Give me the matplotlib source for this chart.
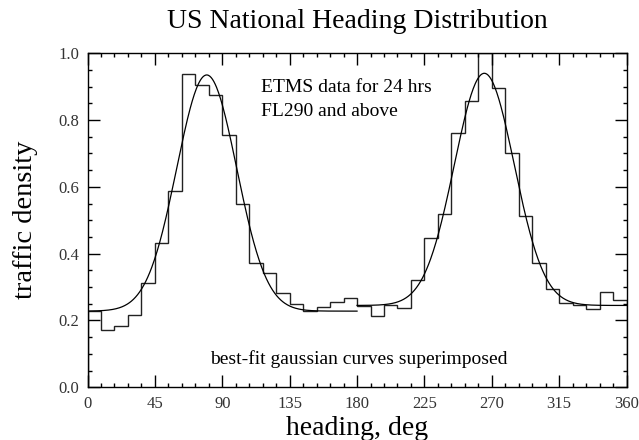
import numpy as np
import matplotlib
matplotlib.use("Agg")
import matplotlib.pyplot as plt

# histogram of headings, 9 deg bins
bin_edges = np.arange(0, 361, 9)
density = [0.228, 0.172, 0.184, 0.216, 0.313, 0.433, 0.589, 0.937, 0.905, 0.875,
           0.756, 0.548, 0.373, 0.341, 0.281, 0.249, 0.229, 0.240, 0.256, 0.266,
           0.243, 0.212, 0.247, 0.237, 0.321, 0.448, 0.519, 0.762, 0.858, 1.000,
           0.897, 0.700, 0.514, 0.371, 0.293, 0.253, 0.247, 0.234, 0.284, 0.261]

# best-fit gaussian parameters, one per half of the compass
fit_range = [(0, 180), (180, 360)]
fit_center = [79.6, 265.0]
fit_sigma = [20.0, 20.0]
fit_peak = [0.707, 0.695]
fit_base = [0.228, 0.245]

x_ticks = [0, 45, 90, 135, 180, 225, 270, 315, 360]
y_ticks = [0.0, 0.2, 0.4, 0.6, 0.8, 1.0]

plt.rcParams['font.family'] = ['Liberation Serif', 'DejaVu Serif']

fig = plt.figure(figsize=(6.39, 4.40), dpi=100)
ax = fig.add_axes([0.137, 0.1198, 0.8435, 0.7592])

ax.stairs(density, bin_edges, color='#222222', lw=1.0, clip_on=True)

for (lo, hi), c, s, a, b in zip(fit_range, fit_center, fit_sigma, fit_peak, fit_base):
    xs = np.linspace(lo, hi, 400)
    ax.plot(xs, b + a * np.exp(-(xs - c) ** 2 / (2 * s ** 2)), color='black', lw=0.9)

ax.set_xlim(0, 360)
ax.set_ylim(0, 1.0)
ax.set_xticks(x_ticks)
ax.set_xticks(np.arange(0, 361, 9), minor=True)
ax.set_yticks(y_ticks)
ax.set_yticks(np.arange(0, 1.001, 0.05), minor=True)
ax.set_yticklabels([f'{v:.1f}' for v in y_ticks])
ax.tick_params(which='both', direction='in', top=True, right=True,
               labelsize=12, labelcolor='#333333', width=1.0, pad=6)
ax.tick_params(which='major', length=8.5)
ax.tick_params(which='minor', length=3)
for sp in ax.spines.values():
    sp.set_linewidth(1.0)

ax.text(116, 0.885, 'ETMS data for 24 hrs', fontsize=14)
ax.text(116, 0.812, 'FL290 and above', fontsize=14)
ax.text(181.5, 0.07, 'best-fit gaussian curves superimposed', fontsize=14, ha='center')

ax.set_title('US National Heading Distribution', fontsize=20, pad=18)
ax.set_xlabel('heading, deg', fontsize=20, labelpad=3.5)
ax.set_ylabel('traffic density', fontsize=20.5, labelpad=15)

fig.savefig('out.png', dpi=100)
